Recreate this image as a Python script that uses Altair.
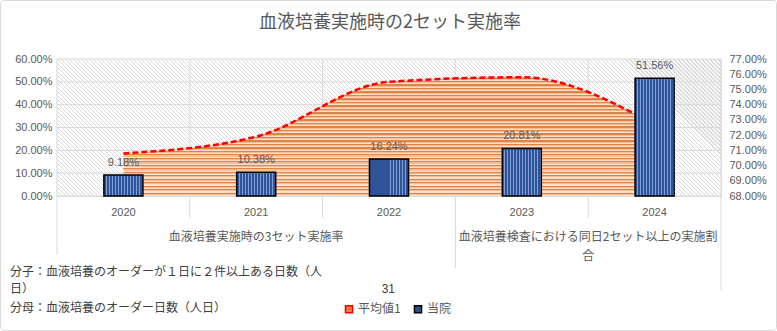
import altair as alt
import pandas as pd

# ---------------- data ----------------
years = ["2020", "2021", "2022", "2023", "2024"]
own_rate = [0.0918, 0.1038, 0.1624, 0.2081, 0.5156]          # 当院 (bars, left axis)
avg_rate = [0.708, 0.719, 0.755, 0.758, 0.727]               # 平均値1 (area, right axis)
left_ticks = [0.0, 0.1, 0.2, 0.3, 0.4, 0.5, 0.6]
right_ticks = [0.68, 0.69, 0.70, 0.71, 0.72, 0.73, 0.74, 0.75, 0.76, 0.77]
series_names = ["平均値1", "当院"]
group1_label = "血液培養実施時の3セット実施率"
group2_label = "血液培養検査における同日2セット以上の実施割\n合"
title_text = "血液培養実施時の2セット実施率"
note1 = "分子：血液培養のオーダーが１日に２件以上ある日数（人"
note2 = "日）"
note3 = "分母：血液培養のオーダー日数（人日）"
note_value = "31"

df = pd.DataFrame({"year": years, "own": own_rate, "avg": avg_rate})

W, H = 664, 137
JP = "Noto Sans CJK JP"
NUM = "Liberation Sans"
GRAY = "#595959"


def stripes(pattern, n, x1, y1, x2, y2):
    """pattern: list of (color, fraction) repeated n times along the gradient."""
    stops = []
    for i in range(n):
        start = i / n
        pos = start
        for color, frac in pattern:
            end = pos + frac / n
            stops.append({"offset": round(pos, 5), "color": color})
            stops.append({"offset": round(min(end, 1.0), 5), "color": color})
            pos = end
    return {"gradient": "linear", "x1": x1, "y1": y1, "x2": x2, "y2": y2, "stops": stops}


# diagonal hatch for plot background (lines x - y = const)
a = (W + H) / (W * W + H * H)
hatch = stripes([("#d9d9d9", 0.28), ("#ffffff", 0.72)], int((W + H) / 4),
                0, 1, round(a * W, 5), round(1 - a * H, 5))
area_fill = stripes([("#de8447", 0.4), ("#f4bd95", 0.3), ("#fbe1cd", 0.3)], 34, 0, 0, 0, 1)
bar_fill = stripes([("#30549a", 0.68), ("#7f9fd4", 0.32)], 13, 0, 0, 1, 0)

xscale = alt.Scale(domain=years, paddingInner=0, paddingOuter=0)
xaxis = alt.Axis(title=None, labelAngle=0, domain=False, ticks=False, grid=False,
                 labelFont=NUM, labelFontSize=11, labelColor=GRAY, labelPadding=10)
lscale = alt.Scale(domain=[0, 0.6], nice=False, zero=True)
rscale = alt.Scale(domain=[0.68, 0.77], nice=False, zero=False)
laxis = alt.Axis(values=left_ticks, format=".2%", title=None, domain=False, ticks=False,
                 grid=False, labelFont=NUM, labelFontSize=11, labelColor=GRAY, labelPadding=5)
raxis = alt.Axis(values=right_ticks, format=".2%", title=None, domain=False, ticks=False,
                 grid=False, orient="right", labelFont=NUM, labelFontSize=11,
                 labelColor=GRAY, labelPadding=8)

one = pd.DataFrame({"k": [0]})

border = alt.Chart(one).mark_rect(fill="transparent", stroke="#d9d9d9", strokeWidth=1,
                                  cornerRadius=3).encode(
    x=alt.value(-56.5), x2=alt.value(W + 55.5), y=alt.value(-58.5), y2=alt.value(H + 134.5))

title = alt.Chart(one).mark_text(font=JP, fontSize=18, color=GRAY, baseline="middle",
                                 align="center").encode(
    x=alt.value(W / 2 + 1), y=alt.value(-36), text=alt.datum(title_text))

bg = alt.Chart(one).mark_rect(fill=hatch).encode(
    x=alt.value(0), x2=alt.value(W), y=alt.value(0), y2=alt.value(H))

hgrid = alt.Chart(pd.DataFrame({"v": left_ticks})).mark_rule(color="#d9d9d9", strokeWidth=1).encode(
    y=alt.Y("v:Q", scale=lscale, axis=None))

xb = lambda bp: alt.X("year:N", scale=xscale, axis=xaxis, sort=years, bandPosition=bp)

vsep_small = alt.Chart(df).transform_filter(
    alt.FieldOneOfPredicate(field="year", oneOf=["2021", "2022", "2024"])
).mark_rule(color="#d9d9d9", strokeWidth=1).encode(x=xb(0), y=alt.value(0), y2=alt.value(H + 22))
vsep_left = alt.Chart(df).transform_filter(alt.datum.year == "2020").mark_rule(
    color="#d9d9d9", strokeWidth=1).encode(x=xb(0), y=alt.value(0), y2=alt.value(H + 59))
vsep_mid = alt.Chart(df).transform_filter(alt.datum.year == "2023").mark_rule(
    color="#d9d9d9", strokeWidth=1).encode(x=xb(0), y=alt.value(0), y2=alt.value(H + 72))
vsep_right = alt.Chart(one).mark_rule(color="#d9d9d9", strokeWidth=1).encode(
    x=alt.value(W), y=alt.value(0), y2=alt.value(H + 94))

area = alt.Chart(df).mark_area(interpolate="monotone", fill=area_fill).encode(
    x=xb(0.5), y=alt.Y("avg:Q", scale=rscale, axis=raxis), y2=alt.datum(0.68))
line = alt.Chart(df).mark_line(interpolate="monotone", color="#ff0000", strokeWidth=2.5,
                               strokeDash=[6, 3]).encode(
    x=xb(0.5), y=alt.Y("avg:Q", scale=rscale, axis=None))

bars = alt.Chart(df).mark_bar(width=alt.RelativeBandSize(0.294), fill=bar_fill,
                              stroke="#000000", strokeWidth=1.5).encode(
    x=xb(0.5), y=alt.Y("own:Q", scale=lscale, axis=laxis))
labels = alt.Chart(df).mark_text(dy=-12, font=NUM, fontSize=11, color=GRAY).encode(
    x=xb(0.5), y=alt.Y("own:Q", scale=lscale, axis=None),
    text=alt.Text("own:Q", format=".2%"))

g1 = alt.Chart(df).transform_filter(alt.datum.year == "2021").mark_text(
    font=JP, fontSize=12, color=GRAY, baseline="middle").encode(
    x=xb(0.5), y=alt.value(H + 41), text=alt.datum(group1_label))
g2 = alt.Chart(df).transform_filter(alt.datum.year == "2024").mark_text(
    font=JP, fontSize=12, color=GRAY, baseline="middle", lineBreak="\n", lineHeight=19).encode(
    x=xb(0), y=alt.value(H + 41), text=alt.datum(group2_label))

nstyle = dict(font=JP, fontSize=12, color="#404040", baseline="middle", align="left")
n1 = alt.Chart(one).mark_text(**nstyle).encode(x=alt.value(-47), y=alt.value(213), text=alt.datum(note1))
n2 = alt.Chart(one).mark_text(**nstyle).encode(x=alt.value(-47), y=alt.value(230), text=alt.datum(note2))
n3 = alt.Chart(one).mark_text(**nstyle).encode(x=alt.value(-47), y=alt.value(249), text=alt.datum(note3))
n4 = alt.Chart(one).mark_text(font=NUM, fontSize=12, color="#404040", baseline="middle",
                              align="right").encode(x=alt.value(338), y=alt.value(230),
                                                    text=alt.datum(note_value))

leg = alt.Legend(orient="none", direction="horizontal", legendX=286, legendY=244, title=None,
                 symbolType="square", symbolSize=50, symbolStrokeWidth=1.5, symbolOpacity=1,
                 labelFont=JP, labelFontSize=12, labelColor=GRAY, columnPadding=10,
                 labelOffset=3)
legend_layer = alt.Chart(pd.DataFrame({"series": series_names})).mark_square(
    filled=True, opacity=0).encode(
    color=alt.Color("series:N", scale=alt.Scale(domain=series_names, range=["#f07a3c", "#2e4f8f"]),
                    legend=leg),
    stroke=alt.Stroke("series:N", scale=alt.Scale(domain=series_names, range=["#ff0000", "#000000"]),
                      legend=leg))

chart = alt.layer(
    border, title, bg, hgrid, vsep_small, vsep_left, vsep_mid, vsep_right,
    area, line, bars, labels, g1, g2, n1, n2, n3, n4, legend_layer
).resolve_scale(y="independent").properties(
    width=W, height=H,
    autosize=alt.AutoSizeParams(type="none"),
    padding={"left": 57, "top": 59, "right": 56, "bottom": 135},
).configure_view(stroke=None).configure(background="white")

chart.save("out.html", embed_options={"renderer": "svg", "actions": False})
